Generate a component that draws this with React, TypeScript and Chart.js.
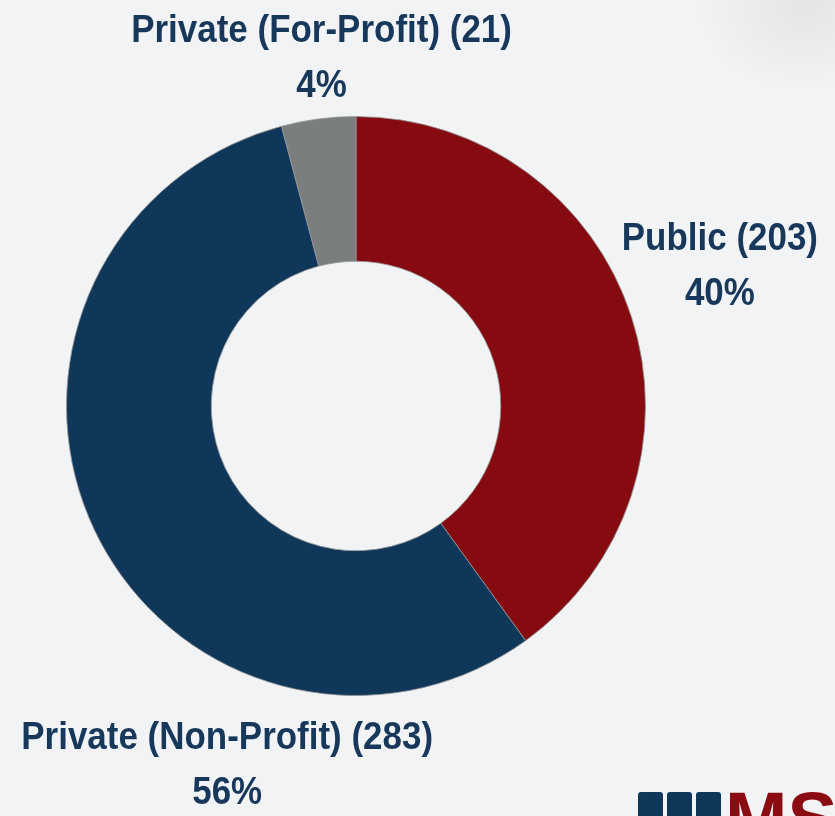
import React, { useEffect, useRef } from "react";
import { Chart, registerables } from "chart.js";

Chart.register(...registerables);

const categories = ["Public", "Private (Non-Profit)", "Private (For-Profit)"];
const counts = [203, 283, 21];
const percentLabels = ["40%", "56%", "4%"];
const sliceColors = ["#850b11", "#0f3759", "#7b7e7e"];

const TEXT_COLOR = "#17385b";
const FONT = "bold 38px 'Liberation Sans', Arial, sans-serif";
const NARROW = 0.92;

// label anchor offsets relative to donut center, in units of outer radius
const labelAnchors = [
  { dx: 1.257, dy: -0.575 },
  { dx: -0.445, dy: 1.148 },
  { dx: -0.119, dy: -1.295 },
];

const labelPlugin = {
  id: "sliceLabels",
  afterDraw(chart: any) {
    const meta = chart.getDatasetMeta(0);
    const arc = meta.data[0] as any;
    if (!arc) return;
    const { x, y, outerRadius } = arc.getProps(["x", "y", "outerRadius"], true);
    const ctx = chart.ctx;
    categories.forEach((c, i) => {
      const a = labelAnchors[i];
      const cx = x + a.dx * outerRadius;
      const cy = y + a.dy * outerRadius;
      ctx.save();
      ctx.translate(cx, cy);
      ctx.scale(NARROW, 1);
      ctx.font = FONT;
      ctx.fillStyle = TEXT_COLOR;
      ctx.textAlign = "center";
      ctx.textBaseline = "middle";
      ctx.fillText(`${c} (${counts[i]})`, 0, 0);
      ctx.fillText(percentLabels[i], 0, 55);
      ctx.restore();
    });
  },
};

export default function App() {
  const ref = useRef<HTMLCanvasElement | null>(null);
  useEffect(() => {
    document.body.style.margin = "0";
    const chart = new Chart(ref.current as HTMLCanvasElement, {
      type: "doughnut",
      data: {
        labels: categories,
        datasets: [
          {
            data: counts,
            backgroundColor: sliceColors,
            borderColor: "rgba(150,150,150,0.8)",
            borderWidth: 1,
            hoverOffset: 0,
          },
        ],
      },
      options: {
        animation: false,
        responsive: false,
        cutout: "50%",
        layout: { padding: { left: 66, right: 189, top: 116, bottom: 120 } },
        plugins: {
          legend: { display: false },
          tooltip: { enabled: false },
        },
      },
      plugins: [labelPlugin],
    });
    return () => chart.destroy();
  }, []);

  const bar = { width: 25, height: 40, background: "#0f3759", borderRadius: 3 };

  return (
    <div
      style={{
        position: "fixed",
        left: 0,
        top: 0,
        width: 835,
        height: 816,
        overflow: "hidden",
        background: "#f1f3f5",
      }}
    >
      <div
        style={{
          position: "absolute",
          right: -90,
          top: -90,
          width: 240,
          height: 190,
          background: "radial-gradient(ellipse at center, rgba(0,0,0,0.06), rgba(0,0,0,0) 65%)",
        }}
      />
      <canvas ref={ref} width={835} height={816} style={{ position: "absolute", left: 0, top: 0 }} />
      <div style={{ position: "absolute", left: 638, top: 792, display: "flex", gap: 4 }}>
        <div style={bar} />
        <div style={bar} />
        <div style={bar} />
      </div>
      <div
        style={{
          position: "absolute",
          left: 725,
          top: 781,
          font: "bold 75px 'Liberation Sans', Arial, sans-serif",
          color: "#8a0c12",
          lineHeight: "75px",
          whiteSpace: "nowrap",
        }}
      >
        MS
      </div>
    </div>
  );
}
